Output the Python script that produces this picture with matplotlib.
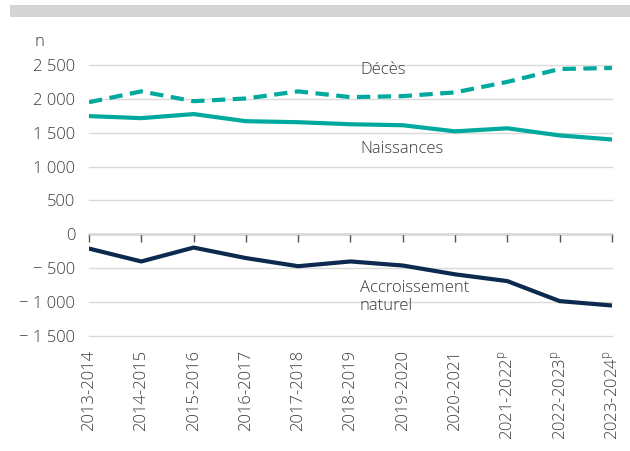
import matplotlib.pyplot as plt
from matplotlib.patches import Rectangle

# Data
periods = ['2013-2014', '2014-2015', '2015-2016', '2016-2017', '2017-2018',
           '2018-2019', '2019-2020', '2020-2021', '2021-2022', '2022-2023',
           '2023-2024']
provisional = [False] * 8 + [True] * 3
deces = [1950, 2110, 1965, 2005, 2110, 2025, 2040, 2095, 2250, 2440, 2455]
naissances = [1745, 1715, 1775, 1670, 1655, 1625, 1610, 1520, 1565, 1460, 1400]
accroissement = [-210, -400, -195, -350, -470, -400, -460, -590, -690, -985, -1050]
y_ticks = [-1500, -1000, -500, 0, 500, 1000, 1500, 2000, 2500]

TEAL = '#00a99d'
NAVY = '#0c2a50'
TEXT = '#3a3a3a'

plt.rcParams['font.family'] = ['Open Sans', 'DejaVu Sans']
plt.rcParams['font.weight'] = 'light'
plt.rcParams['mathtext.fontset'] = 'custom'
plt.rcParams['mathtext.rm'] = 'Open Sans:light'


def fmt(v):
    s = f'{abs(v):,}'.replace(',', ' ')
    return ('\u2212 ' + s) if v < 0 else s


fig = plt.figure(figsize=(6.3, 4.51), dpi=100)
ax = fig.add_axes([0.1413, 0.255, 0.830, 0.601])

# grey band at the top of the figure
fig.patches.append(Rectangle((10 / 630, 1 - 17 / 451), 1, 12 / 451,
                             transform=fig.transFigure, color='#d4d4d4', lw=0))

x = list(range(len(periods)))
ax.plot(x, deces, color=TEAL, lw=3, dashes=(3.2, 1.8), solid_capstyle='butt')
ax.plot(x, naissances, color=TEAL, lw=3)
ax.plot(x, accroissement, color=NAVY, lw=3)

ax.set_xlim(0, len(periods) - 1)
ax.set_ylim(-1500, 2500)
ax.set_yticks(y_ticks)
ax.set_yticklabels([fmt(v) for v in y_ticks], fontsize=12, color=TEXT)
ax.tick_params(axis='y', length=0, pad=10)
ax.grid(axis='y', color='#dadada', lw=1)
ax.set_axisbelow(True)
for gl in ax.get_ygridlines():
    gl.set_clip_on(False)

labels = [p + (r'$^{\mathrm{p}}$' if pr else '') for p, pr in zip(periods, provisional)]
ax.set_xticks(x)
ax.set_xticklabels(labels, rotation=90, fontsize=12, color=TEXT)
ax.tick_params(axis='x', length=0, pad=10)

for s in ax.spines.values():
    s.set_visible(False)

# zero axis with tick marks
zero_pos = (0 - ax.get_ylim()[0]) / (ax.get_ylim()[1] - ax.get_ylim()[0])
sec = ax.secondary_xaxis(zero_pos)
sec.set_xticks(x)
sec.set_xticklabels([])
sec.tick_params(axis='x', direction='out', length=6, width=1, color='#555555')
sec.spines['bottom'].set_color('#555555')
sec.spines['bottom'].set_linewidth(1)

ax.text(5.18, 2430, 'Décès', fontsize=12, color=TEXT, va='center', ha='left')
ax.text(5.18, 1265, 'Naissances', fontsize=12, color=TEXT, va='center', ha='left')
ax.text(5.18, -930, 'Accroissement\nnaturel', fontsize=12, color=TEXT,
        va='center', ha='left', linespacing=1.15)

fig.text(35 / 630, 1 - 42 / 451, 'n', fontsize=12, color=TEXT, va='center', ha='left')

fig.savefig('out.png', dpi=100)
